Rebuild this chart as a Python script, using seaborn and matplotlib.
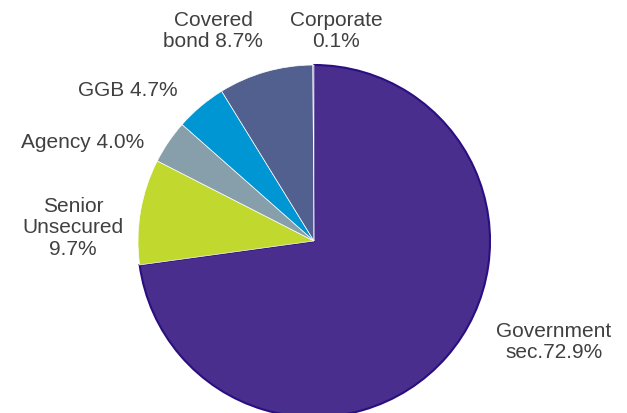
import matplotlib
matplotlib.use("Agg")
import matplotlib.pyplot as plt
import seaborn as sns

# Portfolio breakdown by asset class (%)
categories = ["Government sec.", "Senior Unsecured", "Agency", "GGB", "Covered bond", "Corporate"]
shares = [72.9, 9.7, 4.0, 4.7, 8.7, 0.1]
labels = ["Government\nsec.72.9%", "Senior\nUnsecured\n9.7%", "Agency 4.0%",
          "GGB 4.7%", "Covered\nbond 8.7%", "Corporate\n0.1%"]
colors = ["#492E8D", "#C1D82F", "#879FAA", "#0095D3", "#51608F", "#2B6FA3"]

sns.set_theme(style="white")
plt.rcParams["font.family"] = ["Liberation Sans", "DejaVu Sans"]

fig = plt.figure(figsize=(6.27, 4.14), dpi=100)
ax = fig.add_axes([0, 0, 1, 1])
ax.set_xlim(0, 627)
ax.set_ylim(0, 414)
ax.set_aspect("equal")
ax.axis("off")

cx, cy, r = 314, 414 - 242, 176
explode = [0.015, 0, 0, 0, 0, 0]
wedges, _ = ax.pie(shares, colors=colors, startangle=90, counterclock=False,
                   center=(cx, cy), radius=r, explode=explode,
                   wedgeprops=dict(edgecolor="white", linewidth=0.5))
wedges[0].set_edgecolor("#2A0F80")
wedges[0].set_linewidth(1.5)
ax.set_xlim(0, 627)
ax.set_ylim(0, 414)

# label anchors in pixel coordinates (x, y from top)
label_pos = [(554, 342), (73, 228), (83, 143), (128, 90), (213, 31), (336, 31)]
for text, (x, y) in zip(labels, label_pos):
    ax.text(x, 414 - y, text, ha="center", va="center", multialignment="center",
            fontsize=15, color="#404040", linespacing=1.15)

fig.savefig("out.png", dpi=100)
